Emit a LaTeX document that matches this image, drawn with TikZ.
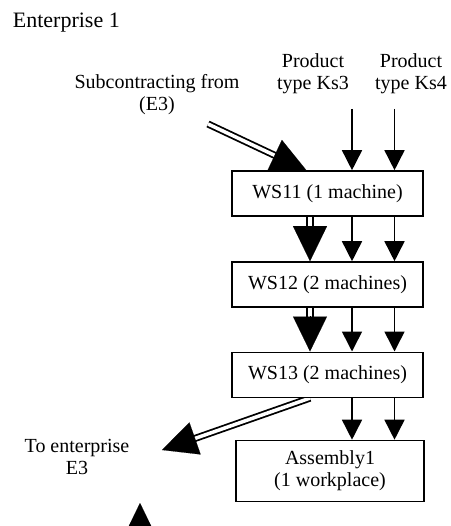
\documentclass[tikz,border=0pt]{standalone}
\usepackage{fontspec}
\setmainfont{Liberation Serif}
\usetikzlibrary{arrows.meta,calc,backgrounds}
\newcommand\bigarrowdraw[2]{%
  \draw[dbl] (#1) -- (#2);
  \draw[bighead] ($(#2)!35.05pt!(#1)$) -- (#2);}
\begin{document}
\begin{tikzpicture}[x=1pt,y=-1pt,
  every node/.style={font=\fontsize{20}{22}\selectfont, inner sep=0pt},
  box/.style={draw, fill=white, line width=1.6pt, minimum width=191pt, minimum height=45pt, align=center},
  lbl/.style={align=center, anchor=north},
  thinarrow/.style={line width=1.6pt, -{Triangle[length=20pt,width=20pt]}},
  dbl/.style={line width=1.8pt, double=white, double distance=3.5pt, shorten >=34pt},
  bighead/.style={line width=0.1pt, -{Triangle[length=35pt,width=34pt]}}
]
\useasboundingbox (0,0) rectangle (450,526);

\node[anchor=base west, font=\fontsize{22}{24}\selectfont] (title) at (12.7,28) {Enterprise 1};
\node[lbl] (sub) at (157,74) {Subcontracting from\\(E3)};
\node[lbl] (p3) at (313,53) {Product\\type Ks3};
\node[lbl] (p4) at (411,53) {Product\\type Ks4};
\node[lbl] (toe) at (77,439) {To enterprise\\E3};

\node[box] (ws11) at (327.5,193.5) {WS11 (1 machine)};
\node[box] (ws12) at (327.5,284.5) {WS12 (2 machines)};
\node[box] (ws13) at (327.5,374.8) {WS13 (2 machines)};
\node[box, minimum width=188pt, minimum height=61pt] (asm) at (330,471) {Assembly1\\(1 workplace)};

\coordinate (k3) at (352,109);
\coordinate (k4) at (394.5,109);
\coordinate (bx) at (310,0);
\coordinate (sc) at (208,124);
\coordinate (sct) at ($(ws11.north west)!0.39!(ws11.north east)$);
\coordinate (te) at (162,450);
\coordinate (bt) at (140,503);
\coordinate (bb) at (140,560);
\coordinate (a1) at (ws11.south -| bx);
\coordinate (a2) at (ws12.north -| bx);
\coordinate (b1) at (ws12.south -| bx);
\coordinate (b2) at (ws13.north -| bx);
\coordinate (c1) at (ws13.south -| bx);

\begin{scope}[on background layer]
  \draw[thinarrow] (k3) -- (k3 |- ws11.north);
  \draw[thinarrow] (k4) -- (k4 |- ws11.north);
  \draw[thinarrow] (ws11.south -| k3) -- (ws12.north -| k3);
  \draw[thinarrow] (ws11.south -| k4) -- (ws12.north -| k4);
  \draw[thinarrow] (ws12.south -| k3) -- (ws13.north -| k3);
  \draw[thinarrow] (ws12.south -| k4) -- (ws13.north -| k4);
  \draw[thinarrow] (ws13.south -| k3) -- (asm.north -| k3);
  \draw[thinarrow] (ws13.south -| k4) -- (asm.north -| k4);
  \bigarrowdraw{sc}{sct}
  \bigarrowdraw{a1}{a2}
  \bigarrowdraw{b1}{b2}
  \bigarrowdraw{c1}{te}
  \bigarrowdraw{bb}{bt}
\end{scope}
\end{tikzpicture}
\end{document}
